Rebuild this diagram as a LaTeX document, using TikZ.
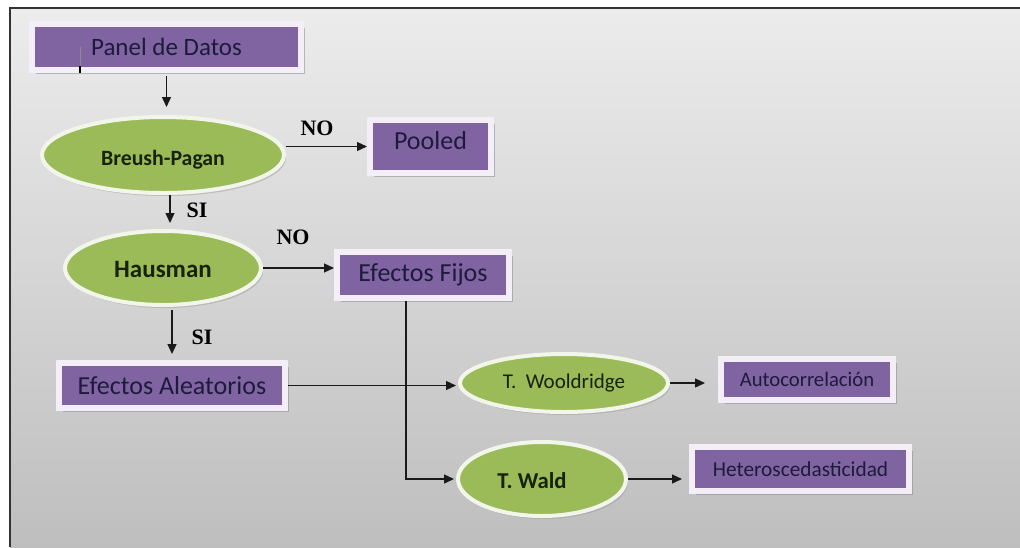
\documentclass[tikz,border=0pt]{standalone}
\usepackage{fontspec}
\setmainfont{Carlito}
\newfontfamily\slabfont{Liberation Serif}
\usetikzlibrary{shapes.geometric,arrows.meta,shadows}

\definecolor{boxfill}{HTML}{8064A2}
\definecolor{boxrim}{HTML}{F3EEF7}
\definecolor{boxtext}{HTML}{1E1A3C}
\definecolor{ovalfill}{HTML}{9BBB59}
\definecolor{ovalrim}{HTML}{F2F6EA}
\definecolor{ovaltext}{HTML}{16220A}
\definecolor{linecol}{HTML}{1A1A1A}
\definecolor{bgtop}{HTML}{ECECEC}
\definecolor{bgbottom}{HTML}{BEBEBE}

\newcommand{\fs}[1]{\fontsize{#1}{#1}\selectfont}

\tikzset{
  stepbox/.style={rectangle, fill=boxfill, draw=boxrim, line width=6pt,
    inner sep=0pt, text=boxtext,
    drop shadow={shadow xshift=4pt, shadow yshift=-4pt, fill=black!45, opacity=0.55}},
  testoval/.style={ellipse, fill=ovalfill, draw=ovalrim, line width=4pt,
    inner sep=0pt, text=ovaltext,
    drop shadow={shadow xshift=2pt, shadow yshift=-3pt, fill=black!40, opacity=0.45}},
  answer/.style={inner sep=0pt, text=black, font=\slabfont\bfseries\fs{22}},
  arr/.style={draw=linecol, line width=1.3pt, -{Triangle[length=10pt,width=9pt]}}
}

\begin{document}
\begin{tikzpicture}[x=1pt,y=-1pt]
  \useasboundingbox (0,0) rectangle (1020,547);
  \fill[white] (0,0) rectangle (1020,547);
  % panel background with its frame
  \shade[top color=bgtop, bottom color=bgbottom] (10,8) rectangle (1020,547);
  \draw[line width=1.6pt, black!80] (10,547) -- (10,8) -- (1020,8);

  % boxes
  \node[stepbox, minimum width=269pt, minimum height=46pt, font=\fs{25}] (panel) at (166.5,47) {Panel de Datos};
  \node[stepbox, minimum width=121pt, minimum height=53pt, text depth=12pt, font=\fs{26}] (pooled) at (430.5,146.5) {Pooled};
  \node[stepbox, minimum width=172pt, minimum height=46pt, font=\fs{26}] (fijos) at (423,275) {Efectos Fijos};
  \node[stepbox, minimum width=226pt, minimum height=45pt, font=\fs{26}] (aleat) at (172,385.5) {Efectos Aleatorios};
  \node[stepbox, minimum width=172pt, minimum height=41pt, font=\fs{20.7}] (auto) at (807,379.5) {Autocorrelación};
  \node[stepbox, minimum width=217pt, minimum height=44pt, font=\fs{21.3}] (hetero) at (800.5,469) {Heteroscedasticidad};

  % tests
  \node[testoval, minimum width=242pt, minimum height=76pt, text height=24pt, text depth=3pt,
        font=\bfseries\fs{21.8}] (breush) at (163,155) {Breush-Pagan};
  \node[testoval, minimum width=196pt, minimum height=74pt, text height=21pt, text depth=3pt,
        font=\bfseries\fs{25}] (hausman) at (163,268) {Hausman};
  \node[testoval, minimum width=208pt, minimum height=58pt, font=\fs{21}] (wooldridge) at (564,383) {T.\ \ Wooldridge};
  \node[testoval, minimum width=168pt, minimum height=74pt, text height=20pt, text depth=2pt,
        font=\bfseries\fs{22.7}] (wald) at (542,479) {T. Wald\kern20pt};

  % answers
  \node[answer] (no1) at (317,128) {NO};
  \node[answer] (si1) at (197,210) {SI};
  \node[answer] (no2) at (293,237) {NO};
  \node[answer] (si2) at (202,337) {SI};

  % cursor mark inside the first box
  \draw[line width=1pt, black!45] (80,47) -- (80,66);
  \draw[line width=2pt, black] (80,66) -- (80,73);

  % connectors
  \draw[arr, shorten <=3pt, shorten >=8pt] (panel.south) -- (panel.south |- breush.north);
  \draw[arr] (breush.east |- pooled.west) -- (pooled.west);
  \draw[arr, shorten >=6pt] ([xshift=7pt]breush.south) -- ([xshift=7pt]breush.south |- hausman.north);
  \draw[arr] (hausman.east) -- (hausman.east -| fijos.west);
  \draw[arr, shorten <=3pt, shorten >=6pt] (aleat.north |- hausman.south) -- (aleat.north);
  \draw[arr, shorten >=2pt] (aleat.east) -- (aleat.east -| wooldridge.west);
  \draw[arr, shorten >=2pt] ([xshift=-17pt]fijos.south) |- (wald.west);
  \draw[arr, shorten >=13pt] (wooldridge.east) -- (wooldridge.east -| auto.west);
  \draw[arr, shorten >=7pt] (wald.east) -- (wald.east -| hetero.west);
\end{tikzpicture}
\end{document}
